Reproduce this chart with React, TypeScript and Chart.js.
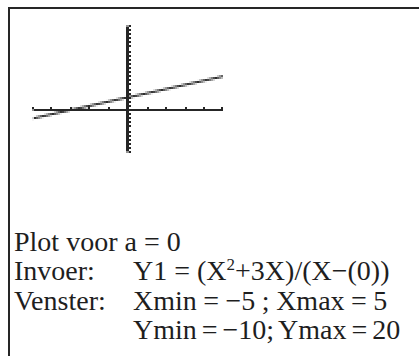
import React, { useEffect, useRef } from "react";
import { Chart, registerables } from "chart.js";

Chart.register(...registerables);

// Calculator window settings
const xWindow = [-5, 5];
const yWindow = [-10, 20];
const xScl = 1;
const yScl = 1;

// Y1 = (X^2+3X)/(X-0) sampled at the window edges
const graphX = [-5, 5];
const graphY = [-2, 8];

const captionLines = [
  { label: "Plot voor a = 0", value: "", wordSpacing: 0 },
  { label: "Invoer:", value: "formula", wordSpacing: 0 },
  { label: "Venster:", value: "Xmin = \u22125 ; Xmax = 5", wordSpacing: -0.5 },
  { label: "", value: "Ymin = \u221210; Ymax = 20", wordSpacing: -2 },
];

const INK = "#262626";

// Snap a CSS coordinate to the centre of a half-resolution device pixel
const snap = (v: number) => Math.floor(v / 2) * 2 + 1;

const calcAxes = {
  id: "calcAxes",
  beforeDatasetsDraw(chart: any) {
    const { ctx, chartArea, scales } = chart;
    const xs = scales.x;
    const ys = scales.y;
    const ax = snap(xs.getPixelForValue(0));
    const ay = snap(ys.getPixelForValue(0));
    ctx.save();
    ctx.strokeStyle = INK;
    ctx.fillStyle = INK;
    ctx.lineWidth = 2;
    ctx.beginPath();
    ctx.moveTo(chartArea.left, ay);
    ctx.lineTo(chartArea.right, ay);
    ctx.moveTo(ax, chartArea.top);
    ctx.lineTo(ax, chartArea.bottom);
    ctx.stroke();
    // tick marks above the X axis
    for (let v = xWindow[0]; v <= xWindow[1]; v += xScl) {
      if (v === 0) continue;
      const px = Math.min(snap(xs.getPixelForValue(v)), chartArea.right - 1);
      ctx.fillRect(px - 1, ay - 3, 2, 2);
    }
    // tick marks right of the Y axis
    for (let v = yWindow[0]; v <= yWindow[1]; v += yScl) {
      if (v === 0) continue;
      const py = snap(ys.getPixelForValue(v));
      ctx.fillRect(ax + 1, py - 1, 2, 2);
    }
    ctx.restore();
  },
};

function CalcGraph() {
  const canvasRef = useRef<HTMLCanvasElement | null>(null);

  useEffect(() => {
    const canvas = canvasRef.current;
    if (!canvas) return;
    const chart = new Chart(canvas, {
      type: "line",
      data: {
        datasets: [
          {
            data: graphX.map((x, i) => ({ x, y: graphY[i] })),
            borderColor: INK,
            borderWidth: 2,
            pointRadius: 0,
            tension: 0,
            fill: false,
          },
        ],
      },
      options: {
        animation: false,
        responsive: true,
        maintainAspectRatio: false,
        devicePixelRatio: 0.5,
        layout: { padding: 0 },
        events: [],
        plugins: {
          legend: { display: false },
          tooltip: { enabled: false },
        },
        scales: {
          x: { type: "linear", min: xWindow[0], max: xWindow[1], display: false },
          y: { type: "linear", min: yWindow[0], max: yWindow[1], display: false },
        },
      },
      plugins: [calcAxes],
    });
    return () => chart.destroy();
  }, []);

  return (
    <div
      style={{
        position: "absolute",
        left: 32,
        top: 25,
        width: 191,
        height: 128,
      }}
    >
      <canvas
        ref={canvasRef}
        style={{ imageRendering: "pixelated", filter: "blur(0.3px)" }}
      />
    </div>
  );
}

const FONT_SIZE = 28;

const textStyle: React.CSSProperties = {
  position: "absolute",
  fontFamily: '"Liberation Serif", "Times New Roman", serif',
  fontSize: FONT_SIZE,
  lineHeight: `${FONT_SIZE}px`,
  color: "#1e1e1e",
  whiteSpace: "nowrap",
};

const baselines = [251, 280, 310, 339];
const baselineOffset = 23.45;

export default function App() {
  return (
    <div
      style={{
        position: "fixed",
        left: 0,
        top: 0,
        width: 419,
        height: 356,
        background: "#ffffff",
        overflow: "hidden",
      }}
    >
      <div
        style={{
          position: "absolute",
          left: 8,
          top: 7,
          width: 420,
          height: 360,
          borderLeft: `2px solid ${INK}`,
          borderTop: `2px solid ${INK}`,
        }}
      />
      <CalcGraph />
      {captionLines.map((line, i) => {
        const top = baselines[i] - baselineOffset;
        return (
          <React.Fragment key={i}>
            {line.label && (
              <div style={{ ...textStyle, left: 14, top }}>{line.label}</div>
            )}
            {line.value && (
              <div style={{ ...textStyle, left: 133, top, wordSpacing: line.wordSpacing }}>
                {line.value === "formula" ? (
                  <>
                    Y1 = (X
                    <sup style={{ fontSize: 17, lineHeight: 0, verticalAlign: 10 }}>2</sup>
                    +3X)/(X{"\u2212"}(0))
                  </>
                ) : (
                  line.value
                )}
              </div>
            )}
          </React.Fragment>
        );
      })}
    </div>
  );
}
